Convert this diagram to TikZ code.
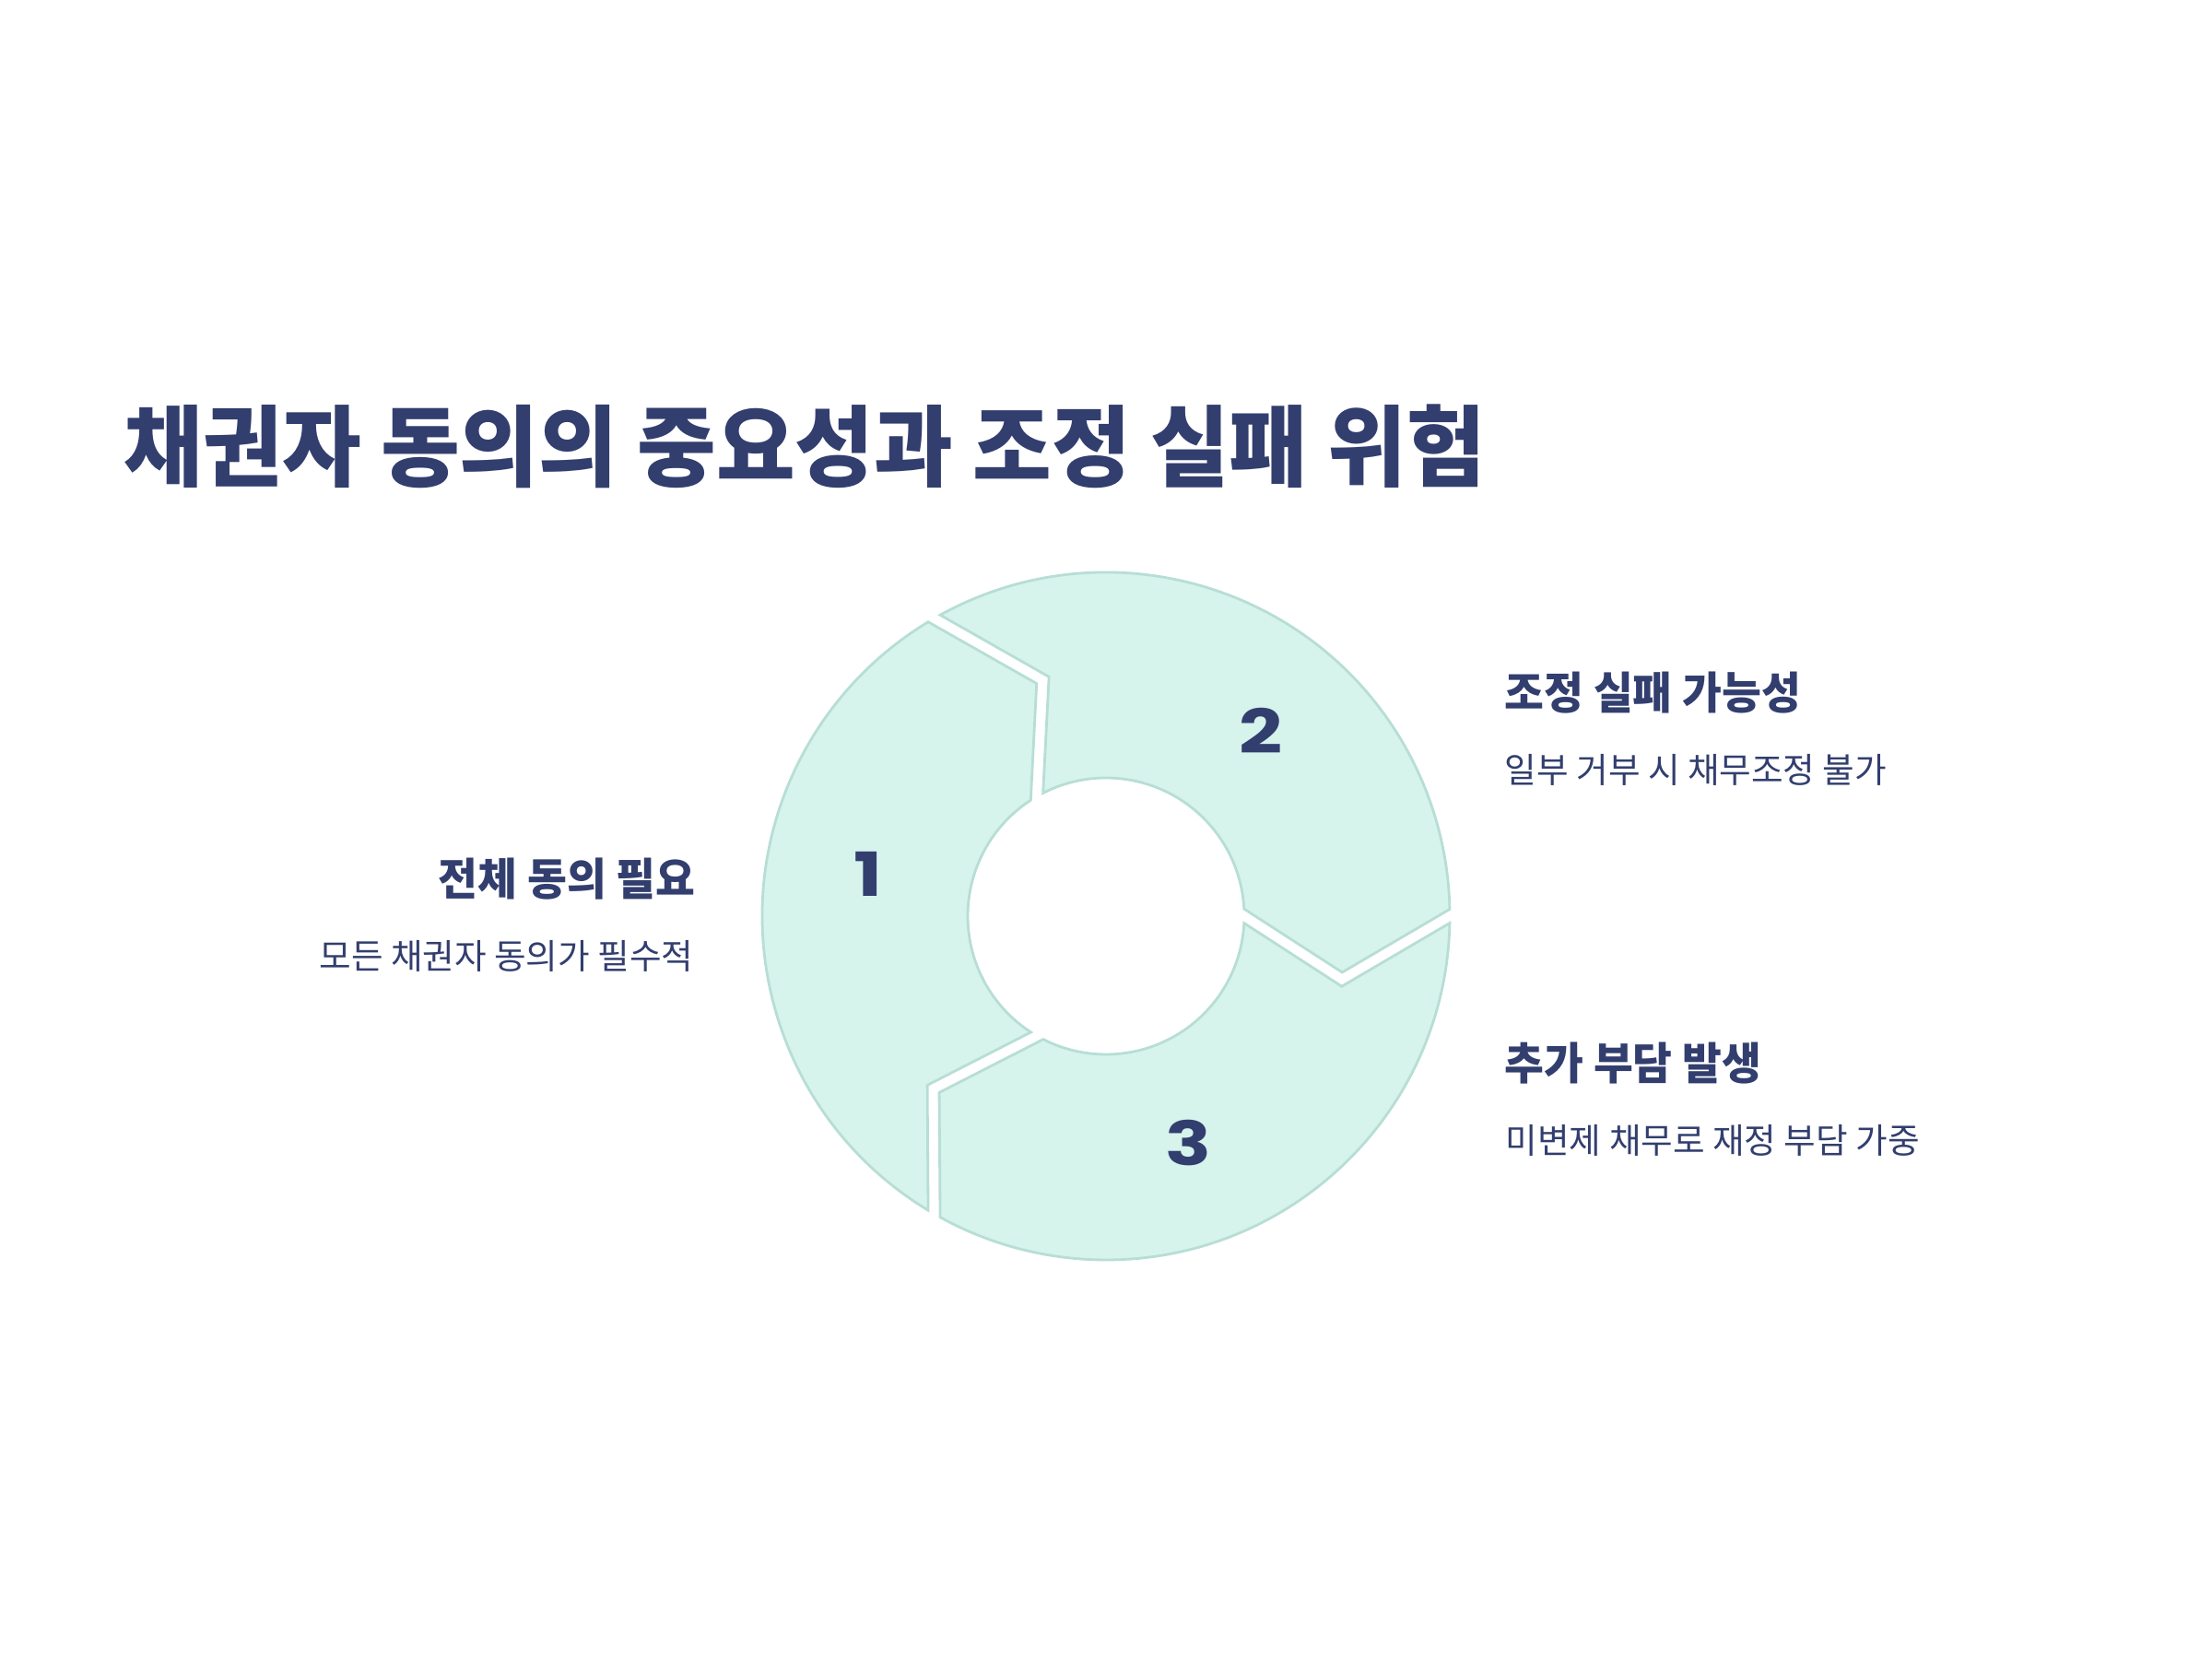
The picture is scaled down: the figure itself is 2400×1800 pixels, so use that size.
\documentclass[tikz,border=0pt]{standalone}
\usepackage{fontspec}
\newfontfamily\krreg{Noto Sans CJK KR}
\newfontfamily\krbold{Noto Sans CJK KR}[FakeStretch=0.97]
\newfontfamily\numfont{Poppins}[FakeStretch=1.25]
\definecolor{ttlnavy}{HTML}{323E6E}
\definecolor{segfill}{HTML}{D6F3EC}
\definecolor{segline}{HTML}{B7DED5}
\tikzset{
  segstyle/.style={fill=segfill, draw=segline, line width=0.7pt, line join=miter},
  titletext/.style={inner sep=0pt, text=ttlnavy, font=\krbold\bfseries\fontsize{24pt}{28pt}\selectfont},
  headtext/.style={inner sep=0pt, text=ttlnavy, font=\krbold\bfseries\fontsize{12pt}{14pt}\selectfont},
  subtext/.style={inner sep=0pt, text=ttlnavy, font=\krreg\fontsize{9.4pt}{11pt}\selectfont},
  numtext/.style={inner sep=0pt, text=ttlnavy, font=\numfont\bfseries\fontsize{16.5pt}{18pt}\selectfont},
}
% one arrow-shaped ring segment; #1 = angle of the boundary where it ends
\newcommand\ringseg[1]{%
  \path[segstyle] ({#1+118.84}:93.25pt)
    arc[start angle={#1+118.84}, end angle={#1+1.15}, radius=93.25pt]
    -- ({#1-13.39}:65.85pt)
    -- ({#1+3.0}:37.5pt)
    arc[start angle={#1+3.0}, end angle={#1+117.1}, radius=37.5pt]
    -- ({#1+103.41}:66.725pt)
    -- cycle;%
}
\begin{document}
\begin{tikzpicture}[x=0.25pt, y=0.25pt]
\useasboundingbox (0,0) rectangle (2400,1800);
\fill[white] (0,0) rectangle (2400,1800);

\node[titletext, anchor=west] (title) at (134,1315.5) {채권자 동의의 중요성과 조정 실패 위험};

\begin{scope}[shift={(1200,806)}]
  \ringseg{120}
  \ringseg{0}
  \ringseg{-120}
  \coordinate (ctr) at (0,0);
  \node[numtext] (n1) at (170:65.5pt) {1};
  \node[numtext] (n2) at (50:65.5pt) {2};
  \node[numtext] (n3) at (-70:65.5pt) {3};
\end{scope}

\node[headtext, anchor=east] (h1) at (755,846) {전체 동의 필요};
\node[subtext, anchor=east] (s1) at (753,762.5) {모든 채권자 동의가 필수적};

\node[headtext, anchor=west] (h2) at (1632,1048) {조정 실패 가능성};
\node[subtext, anchor=west] (s2) at (1632,965) {일부 거부 시 채무조정 불가};

\node[headtext, anchor=west] (h3) at (1632,646) {추가 부담 발생};
\node[subtext, anchor=west] (s3) at (1633,562.5) {미변제 채무로 재정 부담 가중};
\end{tikzpicture}
\end{document}
